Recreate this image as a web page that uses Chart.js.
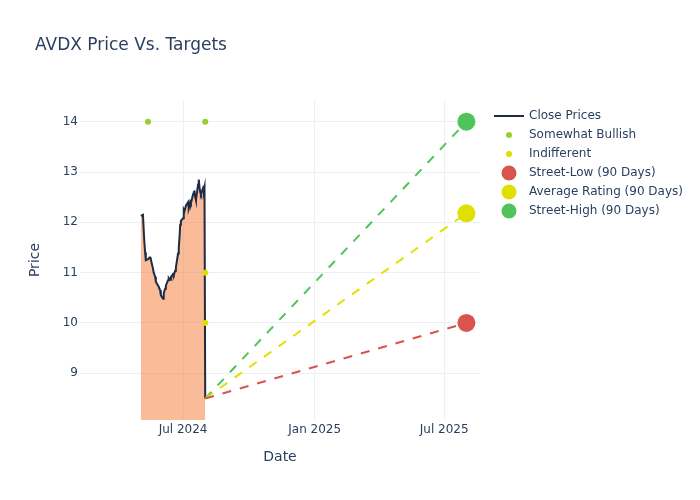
<!DOCTYPE html>
<html lang="en">
<head>
<meta charset="UTF-8">
<title>AVDX Price Vs. Targets</title>
<script src="https://cdn.jsdelivr.net/npm/chart.js@4"></script>
<style>
    html, body { margin: 0; padding: 0; background: #fff; }
    #wrap { width: 700px; height: 500px; position: relative; }
</style>
</head>
<body>
<div id="wrap"><canvas id="chart"></canvas></div>
<script>
// close prices (trading days)
const closeDates = [
    '2024-05-03', '2024-05-06', '2024-05-07', '2024-05-08', '2024-05-09', '2024-05-10',
    '2024-05-13', '2024-05-14', '2024-05-15', '2024-05-16', '2024-05-17',
    '2024-05-20', '2024-05-21', '2024-05-22', '2024-05-23', '2024-05-24',
    '2024-05-28', '2024-05-29', '2024-05-30', '2024-05-31',
    '2024-06-03', '2024-06-04', '2024-06-05', '2024-06-06', '2024-06-07',
    '2024-06-10', '2024-06-11', '2024-06-12', '2024-06-13', '2024-06-14',
    '2024-06-17', '2024-06-18', '2024-06-20', '2024-06-21',
    '2024-06-24', '2024-06-25', '2024-06-26', '2024-06-27', '2024-06-28',
    '2024-07-01', '2024-07-02', '2024-07-03', '2024-07-05',
    '2024-07-08', '2024-07-09', '2024-07-10', '2024-07-11', '2024-07-12',
    '2024-07-15', '2024-07-16', '2024-07-17', '2024-07-18', '2024-07-19',
    '2024-07-22', '2024-07-23', '2024-07-24', '2024-07-25', '2024-07-26',
    '2024-07-29', '2024-07-30', '2024-07-31', '2024-08-01'
];
const closePrices = [
    12.13, 12.15, 11.85, 11.60, 11.40, 11.25,
    11.27, 11.28, 11.30, 11.30, 11.26,
    11.08, 11.00, 10.96, 10.92, 10.82,
    10.72, 10.68, 10.65, 10.55,
    10.48, 10.58, 10.64, 10.68, 10.74,
    10.85, 10.89, 10.87, 10.86, 10.91,
    10.97, 10.95, 11.04, 11.10,
    11.38, 11.50, 11.68, 11.95, 12.03,
    12.08, 12.25, 12.22, 12.33,
    12.40, 12.28, 12.33, 12.41, 12.38,
    12.56, 12.60, 12.61, 12.50, 12.44,
    12.75, 12.85, 12.70, 12.60, 12.56,
    12.68, 12.63, 12.70, 8.50
];

// analyst ratings
const bullishDates = ['2024-05-13', '2024-08-01'];
const bullishPrices = [14, 14];
const indifferentDates = ['2024-08-01', '2024-08-01'];
const indifferentPrices = [11, 10];

// 90 day street targets
const targetStart = '2024-08-01';
const targetEnd = '2025-08-01';
const streetLow = 10;
const averageRating = 12.18;
const streetHigh = 14;

// axes
const xMin = '2024-02-08';
const xMax = '2025-08-20';
const xTickDates = ['2024-07-01', '2025-01-01', '2025-07-01'];
const xTickLabels = ['Jul 2024', 'Jan 2025', 'Jul 2025'];
const yTicks = [9, 10, 11, 12, 13, 14];
const yMin = 8.072;
const yMax = 14.431;

const TEXT = '#2a3f5f';
const GRID = '#ebf0f8';
const FONT = "'DejaVu Sans', sans-serif";
const LEGEND_WIDTH = 220;

const C_CLOSE = '#1f2a44';
const C_FILL = 'rgba(244, 120, 50, 0.5)';
const C_BULL = '#9acd32';
const C_INDIFF = '#dede00';
const C_LOW = '#d9534f';
const C_AVG = '#e0e000';
const C_HIGH = '#50c45a';

const t = d => Date.parse(d);
const pts = (dates, vals) => dates.map((d, i) => ({ x: t(d), y: vals[i] }));
const lastClose = closePrices[closePrices.length - 1];

// legend symbols as little canvases so the sizes can differ per entry
function legendSymbol(kind, color, r) {
    const c = document.createElement('canvas');
    c.width = 40;
    c.height = 20;
    const g = c.getContext('2d');
    const cx = 24, cy = 10;
    if (kind === 'line') {
        g.strokeStyle = color;
        g.lineWidth = 2;
        g.beginPath();
        g.moveTo(cx - 15, cy);
        g.lineTo(cx + 15, cy);
        g.stroke();
    } else {
        g.fillStyle = color;
        g.beginPath();
        g.arc(cx, cy, r, 0, Math.PI * 2);
        g.fill();
    }
    return c;
}

const legendEntries = [
    { text: 'Close Prices', sym: legendSymbol('line', C_CLOSE) },
    { text: 'Somewhat Bullish', sym: legendSymbol('dot', C_BULL, 3) },
    { text: 'Indifferent', sym: legendSymbol('dot', C_INDIFF, 3) },
    { text: 'Street-Low (90 Days)', sym: legendSymbol('dot', C_LOW, 7.5) },
    { text: 'Average Rating (90 Days)', sym: legendSymbol('dot', C_AVG, 7.5) },
    { text: 'Street-High (90 Days)', sym: legendSymbol('dot', C_HIGH, 7.5) }
];

function targetLine(value, color) {
    return {
        label: '_line',
        data: [{ x: t(targetStart), y: lastClose }, { x: t(targetEnd), y: value }],
        borderColor: color,
        borderWidth: 2,
        borderDash: [9, 9],
        pointRadius: 0,
        fill: false,
        order: 5
    };
}

function targetMarker(label, value, color) {
    return {
        label: label,
        data: [{ x: t(targetEnd), y: value }],
        showLine: false,
        pointRadius: 9,
        pointHoverRadius: 9,
        backgroundColor: color,
        borderColor: color,
        borderWidth: 0,
        order: 1
    };
}

// plot title at a fixed spot, plus a wider right-hand legend than the
// default layout (which caps side boxes at a quarter of the width) allows
const pagePlugin = {
    id: 'pageLayout',
    beforeInit(chart) {
        const legend = chart.legend;
        const fit = legend.fit;
        legend.fit = function () {
            fit.call(this);
            if (!this.isHorizontal()) this.width = LEGEND_WIDTH;
        };
    },
    afterDraw(chart) {
        const ctx = chart.ctx;
        ctx.save();
        ctx.font = `17px ${FONT}`;
        ctx.fillStyle = TEXT;
        ctx.textBaseline = 'alphabetic';
        ctx.textAlign = 'left';
        ctx.fillText('AVDX Price Vs. Targets', 35, 50);
        ctx.restore();
    }
};

new Chart(document.getElementById('chart'), {
    type: 'line',
    data: {
        datasets: [
            {
                label: 'Close Prices',
                data: pts(closeDates, closePrices),
                borderColor: C_CLOSE,
                borderWidth: 2,
                backgroundColor: C_FILL,
                fill: 'start',
                pointRadius: 0,
                tension: 0,
                order: 10
            },
            {
                label: 'Somewhat Bullish',
                data: pts(bullishDates, bullishPrices),
                showLine: false,
                pointRadius: 3,
                backgroundColor: C_BULL,
                borderColor: C_BULL,
                borderWidth: 0,
                order: 9
            },
            {
                label: 'Indifferent',
                data: pts(indifferentDates, indifferentPrices),
                showLine: false,
                pointRadius: 3,
                backgroundColor: C_INDIFF,
                borderColor: C_INDIFF,
                borderWidth: 0,
                order: 8
            },
            targetLine(streetLow, C_LOW),
            targetLine(averageRating, C_AVG),
            targetLine(streetHigh, C_HIGH),
            targetMarker('Street-Low (90 Days)', streetLow, C_LOW),
            targetMarker('Average Rating (90 Days)', averageRating, C_AVG),
            targetMarker('Street-High (90 Days)', streetHigh, C_HIGH)
        ]
    },
    options: {
        responsive: true,
        maintainAspectRatio: false,
        animation: false,
        layout: { padding: { left: 0, right: 0, top: 100, bottom: 0 } },
        scales: {
            x: {
                type: 'linear',
                min: t(xMin),
                max: t(xMax),
                afterBuildTicks: s => { s.ticks = xTickDates.map(d => ({ value: t(d) })); },
                afterFit: s => { s.height = 80; },
                ticks: {
                    color: TEXT,
                    font: { family: FONT, size: 12 },
                    padding: 3,
                    maxRotation: 0,
                    autoSkip: false,
                    callback: (v) => xTickLabels[xTickDates.map(t).indexOf(v)]
                },
                grid: { color: GRID, drawTicks: false },
                border: { display: false },
                title: {
                    display: true,
                    text: 'Date',
                    color: TEXT,
                    font: { family: FONT, size: 14 },
                    padding: { top: 4, bottom: 34 }
                }
            },
            y: {
                min: yMin,
                max: yMax,
                afterBuildTicks: s => { s.ticks = yTicks.map(v => ({ value: v })); },
                afterFit: s => { s.width = 80; },
                ticks: {
                    color: TEXT,
                    font: { family: FONT, size: 12 },
                    padding: 2
                },
                grid: { color: GRID, drawTicks: false },
                border: { display: false },
                title: {
                    display: true,
                    text: 'Price',
                    color: TEXT,
                    font: { family: FONT, size: 14 },
                    padding: { top: 27, bottom: 0 }
                }
            }
        },
        plugins: {
            title: { display: false },
            tooltip: { enabled: false },
            legend: {
                position: 'right',
                align: 'start',
                fullSize: false,
                title: {
                    display: true,
                    text: '',
                    padding: 0,
                    font: { family: FONT, size: 3, lineHeight: 1 }
                },
                labels: {
                    usePointStyle: true,
                    pointStyleWidth: 36,
                    padding: 7,
                    color: TEXT,
                    font: { family: FONT, size: 12 },
                    generateLabels: () => legendEntries.map(e => ({
                        text: e.text,
                        pointStyle: e.sym,
                        fillStyle: 'transparent',
                        strokeStyle: 'transparent',
                        lineWidth: 1,
                        fontColor: TEXT,
                        hidden: false
                    }))
                }
            }
        }
    },
    plugins: [pagePlugin]
});
</script>
</body>
</html>
